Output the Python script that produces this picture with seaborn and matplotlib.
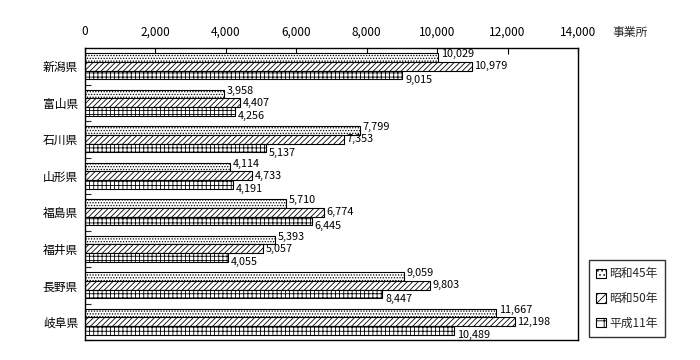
import matplotlib
matplotlib.use("Agg")
import matplotlib.pyplot as plt
import seaborn as sns
import pandas as pd
import numpy as np

prefs = ["新潟県", "富山県", "石川県", "山形県", "福島県", "福井県", "長野県", "岐阜県"]
years = ["昭和45年", "昭和50年", "平成11年"]
s45 = [10029, 3958, 7799, 4114, 5710, 5393, 9059, 11667]
s50 = [10979, 4407, 7353, 4733, 6774, 5057, 9803, 12198]
h11 = [9015, 4256, 5137, 4191, 6445, 4055, 8447, 10489]
xticks = [0, 2000, 4000, 6000, 8000, 10000, 12000, 14000]

sns.set_theme(style="white")
plt.rcParams['font.family'] = ['Noto Sans CJK JP', 'DejaVu Sans']
plt.rcParams['hatch.linewidth'] = 0.6
plt.rcParams['hatch.color'] = 'black'

df = pd.DataFrame({
    "pref": prefs * 3,
    "value": s45 + s50 + h11,
    "year": [years[0]] * 8 + [years[1]] * 8 + [years[2]] * 8,
})

fig = plt.figure(figsize=(7, 3.6), dpi=100)
ax = fig.add_axes([85/700, 20/360, (578-85)/700, (340-48)/360])

sns.barplot(data=df, y="pref", x="value", hue="year", orient="h",
            order=prefs, hue_order=years, width=0.7,
            palette=["white"] * 3, edgecolor="black", linewidth=0.8,
            ax=ax, legend=False)

hatches = ["......", "//////", "++++"]
for cont, h in zip(ax.containers, hatches):
    for p in cont.patches:
        p.set_hatch(h)
        p.set_facecolor("white")
        p.set_edgecolor("black")

offsets = [2.5, 0, -3.5]
for cont, off, vals in zip(ax.containers, offsets, [s45, s50, h11]):
    for p, v in zip(cont.patches, vals):
        y = p.get_y() + p.get_height() / 2
        ax.annotate(f"{v:,}", xy=(p.get_width(), y), xytext=(2, off),
                    textcoords="offset points", ha="left", va="center",
                    fontsize=7.8, color="black")

ax.set_xlim(0, 14000)
ax.set_ylim(len(prefs) - 0.5, -0.5)
ax.xaxis.tick_top()
ax.set_xticks(xticks)
ax.set_xticklabels([f"{t:,}" for t in xticks], fontsize=8.5)
ax.tick_params(axis="x", direction="in", length=4, width=0.8, pad=7, colors="black", top=True, bottom=False)
ax.set_yticks(range(len(prefs)))
ax.set_yticklabels(prefs, fontsize=8.5)
ax.set_yticks(np.arange(-0.5, len(prefs) - 0.5 + 1e-9, 1.0)[1:], minor=True)
ax.tick_params(axis="y", which="major", length=0, pad=5, colors="black")
ax.tick_params(axis="y", which="minor", direction="in", length=4, width=0.8, left=True)
ax.set_xlabel("")
ax.set_ylabel("")
for s in ax.spines.values():
    s.set_color("black")
    s.set_linewidth(1.0)

fig.text(612/700, 1 - 32/360, "事業所", fontsize=8.5, ha="left", va="center")

handles = [matplotlib.patches.Patch(facecolor="white", edgecolor="black", hatch=h, linewidth=0.8)
           for h in ["....", "////", "++"]]
leg = fig.legend(handles, years, loc="lower left", bbox_to_anchor=(589/700, 23/360),
                 fontsize=8.5, frameon=True, handlelength=0.8, handleheight=0.8,
                 handletextpad=0.3, labelspacing=1.0, borderpad=0.6, fancybox=False,
                 borderaxespad=0)
leg.get_frame().set_edgecolor("black")
leg.get_frame().set_linewidth(1.0)

fig.savefig("out.png", dpi=100)
